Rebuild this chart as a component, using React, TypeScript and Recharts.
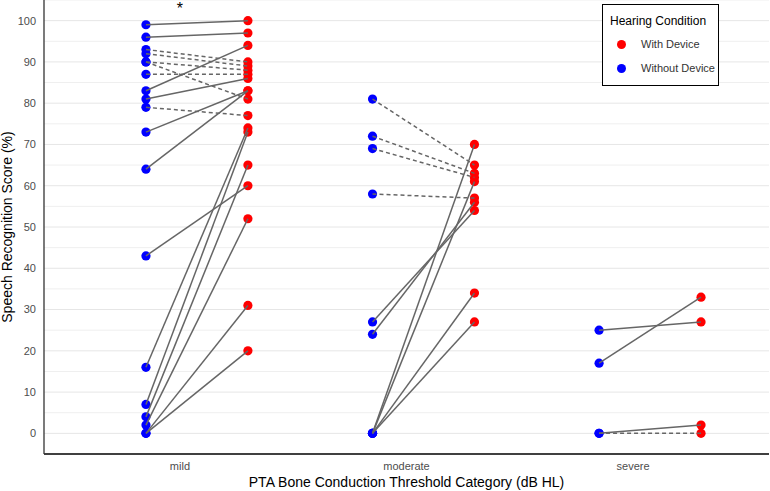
import React from "react";
import { ComposedChart, Scatter, XAxis, YAxis, ReferenceLine } from "recharts";

// Category order on the x axis
const CATEGORIES = ["mild", "moderate", "severe"];
const CATEGORY_TICKS = [1, 2, 3];

// Paired scores per participant (without device -> with device)
const MILD_WITHOUT = [99, 96, 93, 92, 90, 90, 87, 83, 81, 79, 73, 64, 43, 16, 7, 4, 2, 0, 0];
const MILD_WITH = [100, 97, 90, 89, 88, 81, 87, 94, 86, 77, 83, 83, 60, 74, 73, 65, 52, 31, 20];

const MODERATE_WITHOUT = [81, 72, 69, 58, 27, 24, 0, 0, 0, 0];
const MODERATE_WITH = [65, 63, 62, 57, 54, 56, 70, 61, 34, 27];

const SEVERE_WITHOUT = [25, 17, 0, 0];
const SEVERE_WITH = [27, 33, 2, 0];

const Y_TICKS = [0, 10, 20, 30, 40, 50, 60, 70, 80, 90, 100];
const Y_MINOR = [5, 15, 25, 35, 45, 55, 65, 75, 85, 95, 105];

// significance marker above mild
const STAR_POINT = [{ x: 1, y: 103 }];

const OFFSET_WITHOUT = -0.15;
const OFFSET_WITH = 0.3;

const RED = "#ff0000";
const BLUE = "#0000ff";
const LINK = "#666666";
const FONT = "'Liberation Sans', Arial, sans-serif";

const groups = [
  { cat: 1, without: MILD_WITHOUT, withDev: MILD_WITH },
  { cat: 2, without: MODERATE_WITHOUT, withDev: MODERATE_WITH },
  { cat: 3, without: SEVERE_WITHOUT, withDev: SEVERE_WITH },
];

const withoutPoints = groups.flatMap((g) =>
  g.without.map((v) => ({ x: g.cat + OFFSET_WITHOUT, y: v }))
);
const withPoints = groups.flatMap((g) =>
  g.withDev.map((v) => ({ x: g.cat + OFFSET_WITH, y: v }))
);
const pairs = groups.flatMap((g) =>
  g.without.map((v, i) => ({
    improved: g.withDev[i] > v,
    data: [
      { x: g.cat + OFFSET_WITHOUT, y: v },
      { x: g.cat + OFFSET_WITH, y: g.withDev[i] },
    ],
  }))
);

const EmptyShape = () => <g />;

const dot = (color: string) => (props: any) =>
  <circle cx={props.cx} cy={props.cy} r={4.6} fill={color} />;

const StarShape = (props: any) => (
  <text x={props.cx} y={props.cy + 6} textAnchor="middle" fontSize={16} fontFamily={FONT} fill="#000">
    *
  </text>
);

const XTitle = (props: any) => {
  const vb = props.viewBox;
  return (
    <text x={vb.x + vb.width / 2} y={vb.y + 33} textAnchor="middle" fontSize={14} fontFamily={FONT} fill="#000">
      PTA Bone Conduction Threshold Category (dB HL)
    </text>
  );
};

const YTitle = (props: any) => {
  const vb = props.viewBox;
  const cy = vb.y + vb.height / 2;
  return (
    <text x={12} y={cy} transform={`rotate(-90, 12, ${cy})`} textAnchor="middle" fontSize={14} fontFamily={FONT} fill="#000">
      Speech Recognition Score (%)
    </text>
  );
};

function LegendBox() {
  const row = { display: "flex", alignItems: "center", height: 24 } as const;
  const swatch = (c: string) => (
    <span style={{ width: 9, height: 9, borderRadius: "50%", background: c, marginLeft: 14, marginRight: 15 }} />
  );
  return (
    <div
      style={{
        position: "absolute",
        left: 602,
        top: 4,
        width: 115,
        height: 80,
        border: "1.5px solid #000",
        background: "#fff",
        fontFamily: FONT,
        boxSizing: "content-box",
      }}
    >
      <div style={{ fontSize: 12, color: "#000", marginTop: 9, marginLeft: 7, marginBottom: 4 }}>Hearing Condition</div>
      <div style={row}>
        {swatch(RED)}
        <span style={{ fontSize: 11, color: "#333" }}>With Device</span>
      </div>
      <div style={row}>
        {swatch(BLUE)}
        <span style={{ fontSize: 11, color: "#333" }}>Without Device</span>
      </div>
    </div>
  );
}

export default function App() {
  return (
    <div style={{ position: "absolute", left: 0, top: 0, width: 770, height: 491, background: "#fff" }}>
      <ComposedChart width={770} height={491} margin={{ top: 0, right: 1, bottom: 0, left: 0 }}>
        {Y_MINOR.map((v) => (
          <ReferenceLine key={`mn${v}`} y={v} stroke="#efefef" strokeWidth={1} ifOverflow="extendDomain" />
        ))}
        {Y_TICKS.map((v) => (
          <ReferenceLine key={`mj${v}`} y={v} stroke="#e6e6e6" strokeWidth={1} />
        ))}
        <XAxis
          type="number"
          dataKey="x"
          domain={[0.4, 3.6]}
          ticks={CATEGORY_TICKS}
          tickFormatter={(v: number) => CATEGORIES[v - 1]}
          height={37}
          allowDataOverflow
          tick={{ fill: "#4d4d4d", fontSize: 11, fontFamily: FONT }}
          tickLine={false}
          axisLine={{ stroke: "#000", strokeWidth: 1.3 }}
          label={<XTitle />}
        />
        <YAxis
          type="number"
          dataKey="y"
          domain={[-5, 105]}
          ticks={Y_TICKS}
          width={44}
          allowDataOverflow
          tick={{ fill: "#4d4d4d", fontSize: 11, fontFamily: FONT }}
          tickLine={false}
          axisLine={{ stroke: "#333", strokeWidth: 1.3 }}
          label={<YTitle />}
        />
        <Scatter data={withoutPoints} shape={dot(BLUE)} isAnimationActive={false} />
        <Scatter data={withPoints} shape={dot(RED)} isAnimationActive={false} />
        {pairs.map((p, i) => (
          <Scatter
            key={`pair${i}`}
            data={p.data}
            shape={EmptyShape}
            line={{ stroke: LINK, strokeWidth: 1.5, strokeDasharray: p.improved ? undefined : "4 3" }}
            isAnimationActive={false}
          />
        ))}
        <Scatter data={STAR_POINT} shape={StarShape} isAnimationActive={false} />
      </ComposedChart>
      <LegendBox />
    </div>
  );
}
